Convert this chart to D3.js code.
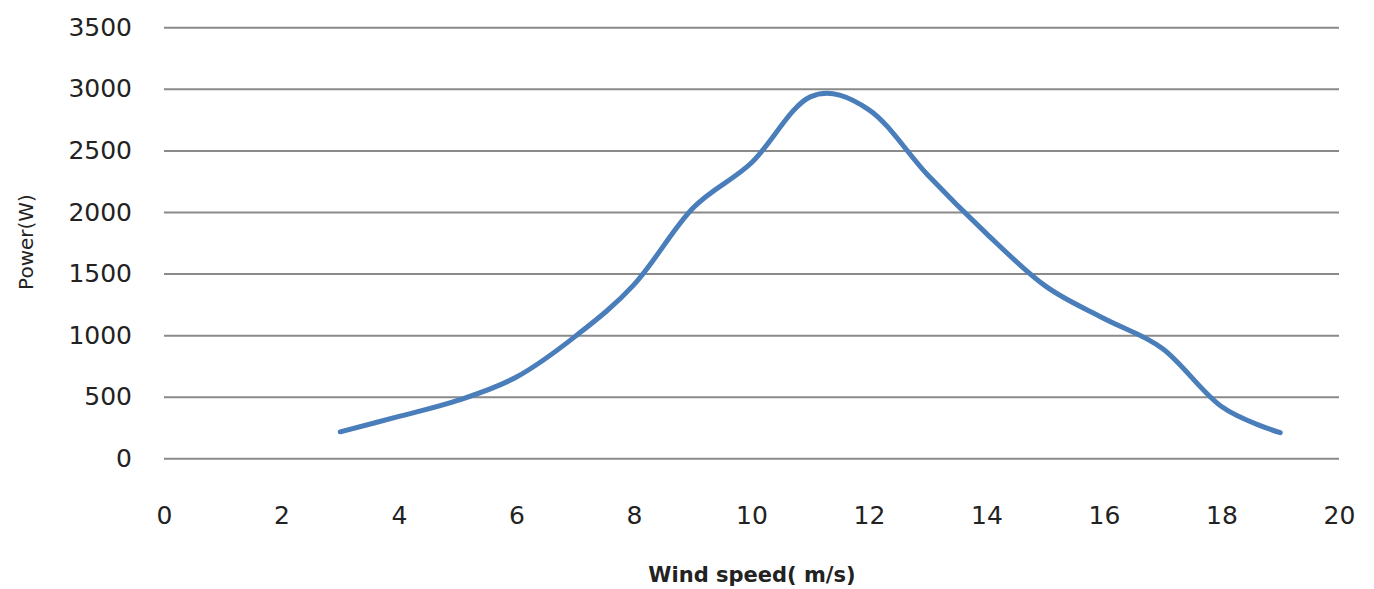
<!DOCTYPE html>
<html>
<head>
<meta charset="utf-8">
<script src="https://cdn.jsdelivr.net/npm/d3@7"></script>
<style>
  body { margin: 0; background: #fff; }
  text { font-family: "DejaVu Sans", Verdana, sans-serif; fill: #222; }
</style>
</head>
<body>
<script>
// wind speed (m/s) and power (W)
var windSpeed = [3, 4, 5, 6, 7, 8, 9, 10, 11, 12, 13, 14, 15, 16, 17, 18, 19];
var power = [215, 340, 470, 660, 990, 1410, 2030, 2400, 2935, 2830, 2300, 1825, 1400, 1135, 890, 420, 208];
var xTicks = [0, 2, 4, 6, 8, 10, 12, 14, 16, 18, 20];
var yTicks = [0, 500, 1000, 1500, 2000, 2500, 3000, 3500];

var w = 1374;
var h = 589;

var svg = d3.select("body")
            .append("svg")
            .attr("width", w)
            .attr("height", h);

var x = d3.scaleLinear().domain([0, 20]).range([164, 1339]);
var y = d3.scaleLinear().domain([0, 3500]).range([458.3, 27.3]);

// y axis + gridlines
var yAxis = svg.append("g")
   .attr("transform", "translate(164,0)")
   .call(d3.axisLeft(y).tickValues(yTicks).tickFormat(d3.format("d"))
           .tickSize(-(1339 - 164)).tickPadding(32));
yAxis.select(".domain").remove();
yAxis.selectAll("line").attr("stroke", "#8a8a8a").attr("stroke-width", 2);
yAxis.selectAll("text").style("font-size", "25px").attr("fill", "#222");

// x axis, labels only
var xAxis = svg.append("g")
   .attr("transform", "translate(0,458.3)")
   .call(d3.axisBottom(x).tickValues(xTicks).tickFormat(d3.format("d"))
           .tickSize(0).tickPadding(48));
xAxis.select(".domain").remove();
xAxis.selectAll("text").style("font-size", "25px").attr("fill", "#222");

// smoothed line like Excel
var line = d3.line()
   .x(function(d, i) { return x(windSpeed[i]); })
   .y(function(d) { return y(d); })
   .curve(d3.curveCardinal.tension(0));

svg.append("path")
   .datum(power)
   .attr("d", line)
   .attr("fill", "none")
   .attr("stroke", "#4a7ebb")
   .attr("stroke-width", 5)
   .attr("stroke-linecap", "round")
   .attr("stroke-linejoin", "round");

// axis titles
svg.append("text")
   .attr("x", 752)
   .attr("y", 582)
   .attr("text-anchor", "middle")
   .style("font-size", "21px")
   .style("font-weight", "bold")
   .text("Wind speed( m/s)");

svg.append("text")
   .attr("transform", "translate(33,242) rotate(-90)")
   .attr("text-anchor", "middle")
   .style("font-size", "20px")
   .text("Power(W)");
</script>
</body>
</html>
